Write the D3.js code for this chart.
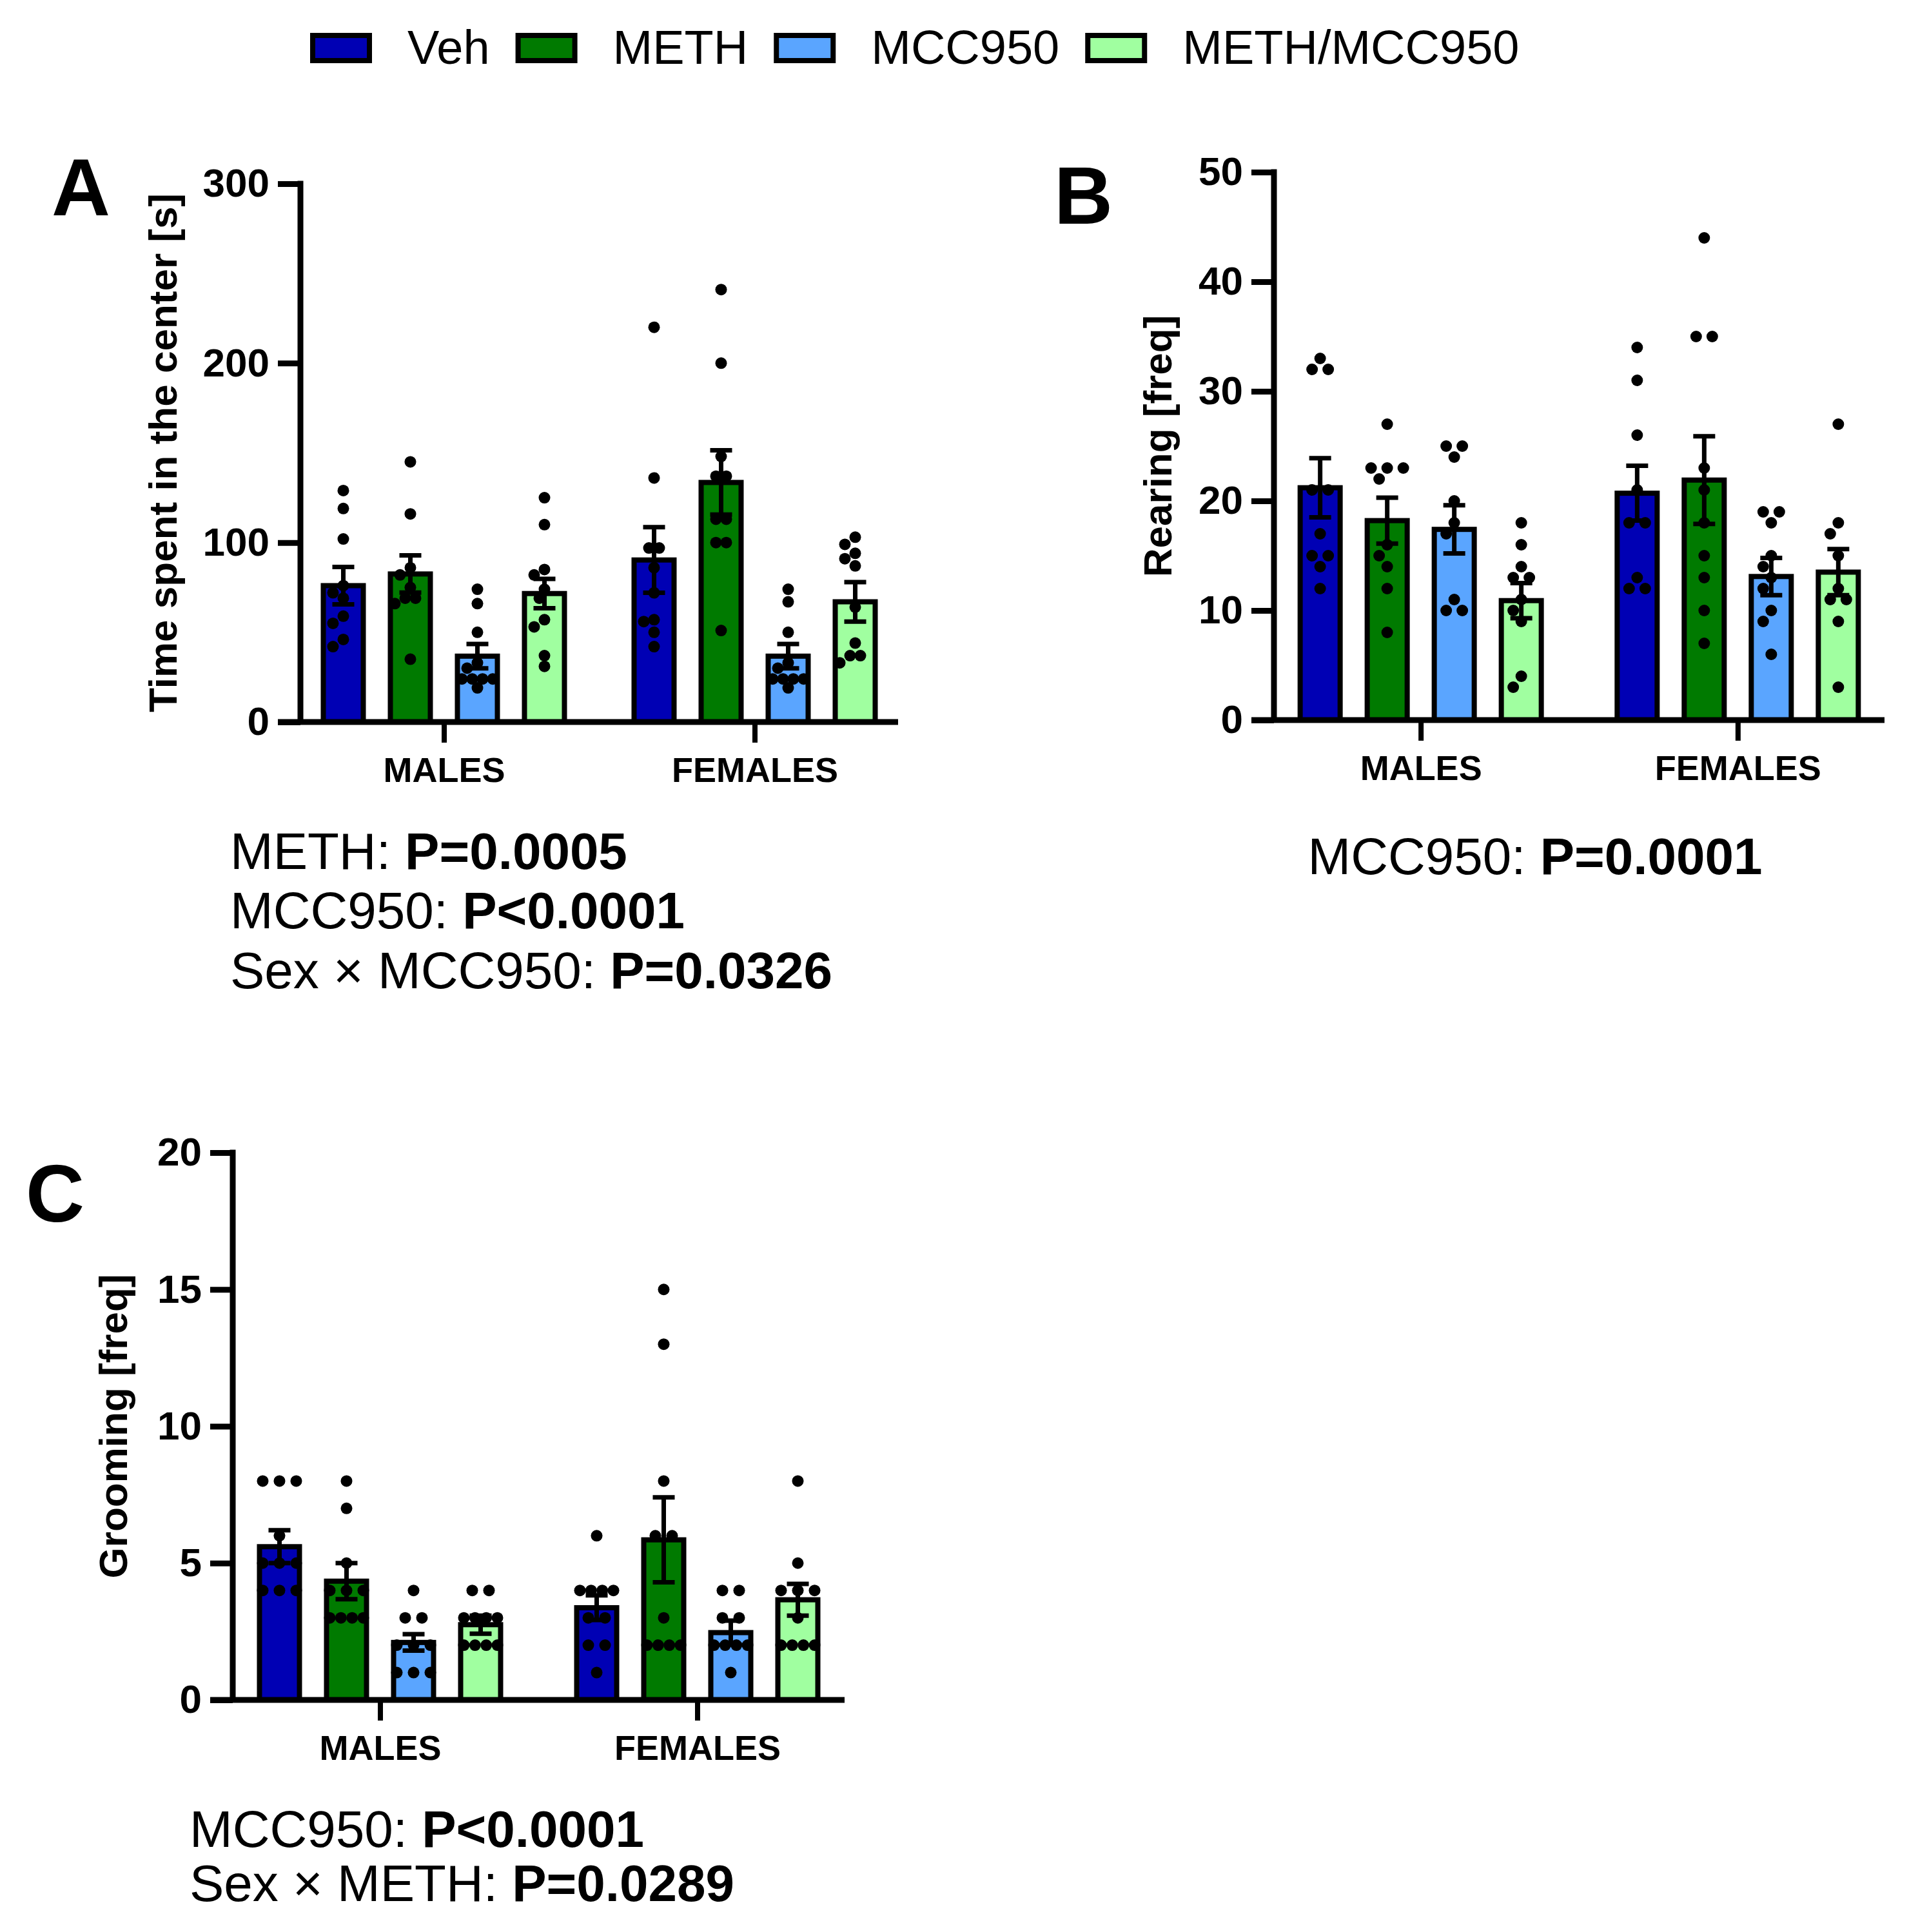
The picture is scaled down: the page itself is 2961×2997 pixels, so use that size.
<!DOCTYPE html>
<html>
<head>
<meta charset="utf-8">
<script src="https://cdn.jsdelivr.net/npm/d3@7"></script>
<style>
  body { margin: 0; background: #fff; }
  svg text { font-family: "Liberation Sans", Arial, sans-serif; }
</style>
</head>
<body>
<svg id="chart"></svg>
<script>
// groups and series
const sexes = ["MALES", "FEMALES"];
const seriesNames = ["Veh", "METH", "MCC950", "METH/MCC950"];
const colors = ["#0000B4", "#007A00", "#5AA5FF", "#A0FFA0"];

// A - time spent in the center [s]
const timeTicks = [0, 100, 200, 300];
const timeMeans = [[76, 82.5, 36.7, 71.6], [90.3, 133.5, 36.7, 67]];
const timeSem = [[10.4, 10.4, 6.8, 8.2], [18.3, 17.9, 6.8, 11]];
const timePoints = [
  [[129, 119, 102, 76, 72, 69, 59, 55, 46, 42],
   [145, 116, 86, 82, 75, 69, 69, 66, 35],
   [74, 66, 50, 33, 30, 24, 24, 24, 24, 19],
   [125, 110, 85, 82, 74, 69, 57, 53, 37, 31]],
  [[220, 136, 97, 97, 86, 72, 57, 56, 50, 42],
   [241, 200, 148, 137, 137, 113, 113, 100, 100, 51],
   [74, 67, 50, 33, 30, 24, 24, 24, 24, 19],
   [103, 99, 94, 91, 87, 64, 44, 37, 37, 33]]
];
const statsA = [["METH: ", "P=0.0005"], ["MCC950: ", "P<0.0001"], ["Sex \u00d7 MCC950: ", "P=0.0326"]];

// B - rearing [freq]
const rearingTicks = [0, 10, 20, 30, 40, 50];
const rearingMeans = [[21.2, 18.2, 17.4, 10.9], [20.7, 21.9, 13.1, 13.5]];
const rearingSem = [[2.7, 2.1, 2.2, 1.6], [2.5, 4.0, 1.7, 2.1]];
const rearingPoints = [
  [[33, 32, 32, 21, 21, 17, 15, 15, 14, 12],
   [27, 23, 23, 23, 22, 16, 15, 14, 12, 8],
   [25, 25, 24, 20, 18, 17, 11, 10, 10],
   [18, 16, 14, 13, 13, 11, 10, 9, 4, 3]],
  [[34, 31, 26, 21, 18, 18, 13, 12, 12],
   [44, 35, 35, 23, 21, 18, 15, 13, 10, 7],
   [19, 19, 18, 15, 14, 13, 12, 10, 9, 6],
   [27, 18, 17, 15, 12, 11, 11, 9, 3]]
];
const statsB = [["MCC950: ", "P=0.0001"]];

// C - grooming [freq]
const groomingTicks = [0, 5, 10, 15, 20];
const groomingMeans = [[5.6, 4.34, 2.1, 2.75], [3.37, 5.85, 2.46, 3.66]];
const groomingSem = [[0.6, 0.66, 0.3, 0.33], [0.45, 1.55, 0.44, 0.58]];
const groomingPoints = [
  [[8, 8, 8, 6, 5, 5, 5, 4, 4, 4],
   [8, 7, 5, 4, 4, 4, 3, 3, 3, 3],
   [4, 3, 3, 2, 2, 2, 1, 1, 1],
   [4, 4, 3, 3, 3, 3, 2, 2, 2, 2]],
  [[6, 4, 4, 4, 4, 3, 3, 2, 2, 1],
   [15, 13, 8, 6, 6, 3, 2, 2, 2, 2],
   [4, 4, 3, 3, 2, 2, 2, 2, 1],
   [8, 5, 4, 4, 4, 3, 2, 2, 2, 2]]
];
const statsC = [["MCC950: ", "P<0.0001"], ["Sex \u00d7 METH: ", "P=0.0289"]];

document.addEventListener("DOMContentLoaded", function () {
    const W = 2961, H = 2997;
    const font = '"Liberation Sans", Arial, sans-serif';
    const svg = d3.select("#chart").attr("width", W).attr("height", H);
    svg.append("rect").attr("width", W).attr("height", H).attr("fill", "#fff");

    // legend
    const legend = svg.append("g");
    let lx = 481;
    seriesNames.forEach((name, i) => {
        legend.append("rect")
            .attr("x", lx + 4).attr("y", 55)
            .attr("width", 88).attr("height", 39)
            .attr("fill", colors[i]).attr("stroke", "#000").attr("stroke-width", 8);
        const t = legend.append("text")
            .attr("x", lx + 96 + 55).attr("y", 99)
            .attr("font-size", 74).text(name);
        lx += 96 + 55 + t.node().getComputedTextLength() + 40;
    });

    function drawPanel(p) {
        const g = svg.append("g");
        const y = d3.scaleLinear().domain([0, p.ticks[p.ticks.length - 1]]).range([p.y0, p.y1]);
        const x = d3.scalePoint().domain(sexes).range([p.x0, p.x1]).padding(p.pad);
        const xs = d3.scaleBand().domain(seriesNames).range([-208, 208]);
        const barW = 62, r = 9, step = p.dotStep, minDist = p.dotStep < 20 ? 16 : 18;

        const rows = [];
        sexes.forEach((sex, gi) => seriesNames.forEach((s, si) => {
            rows.push({ gi, si, cx: x(sex) + xs(s) + xs.bandwidth() / 2,
                mean: p.means[gi][si], sem: p.sems[gi][si], pts: p.points[gi][si] });
        }));

        // bars
        g.selectAll("rect.bar").data(rows).join("rect")
            .attr("class", "bar")
            .attr("x", d => d.cx - barW / 2)
            .attr("y", d => y(d.mean))
            .attr("width", barW)
            .attr("height", d => y(0) - y(d.mean))
            .attr("fill", d => colors[d.si])
            .attr("stroke", "#000").attr("stroke-width", 8);

        // points: equal values sit side by side (kept inside the bar), close values get pushed aside
        const dots = [];
        rows.forEach(d => {
            const placed = [];
            d3.groups(d.pts, v => v).sort((a, b) => b[0] - a[0]).forEach(([v, arr]) => {
                const py = y(v);
                const s = arr.length > 1 ? Math.min(step, p.rowWidth / (arr.length - 1)) : step;
                const base = arr.map((_, j) => (j - (arr.length - 1) / 2) * s);
                for (let n = 0; n < 40; n++) {
                    const shift = (n % 2 ? -1 : 1) * Math.ceil(n / 2) * step / 2;
                    const pos = base.map(b => b + shift);
                    const ok = pos.every(px => placed.every(q => Math.hypot(q.x - px, q.y - py) >= minDist));
                    if (ok) { pos.forEach(px => placed.push({ x: px, y: py })); break; }
                }
            });
            placed.forEach(q => dots.push({ x: d.cx + q.x, y: q.y }));
        });
        g.selectAll("circle").data(dots).join("circle")
            .attr("cx", d => d.x).attr("cy", d => d.y).attr("r", r).attr("fill", "#000");

        // error bars (mean +/- SEM)
        g.selectAll("path.err").data(rows).join("path")
            .attr("class", "err")
            .attr("d", d => {
                const t = y(d.mean + d.sem), b = y(d.mean - d.sem);
                return `M${d.cx},${t}V${b}M${d.cx - 17},${t}H${d.cx + 17}M${d.cx - 17},${b}H${d.cx + 17}`;
            })
            .attr("fill", "none").attr("stroke", "#000").attr("stroke-width", 7);

        // y axis
        const ya = g.append("g").attr("transform", `translate(${p.x0},0)`)
            .call(d3.axisLeft(y).tickValues(p.ticks).tickSize(35).tickSizeOuter(0).tickPadding(13));
        ya.attr("font-family", font).attr("font-size", 62).attr("font-weight", "bold");
        ya.select(".domain").attr("d", `M0,${p.y1 - 4.5}V${p.y0}`).attr("stroke-width", 9);
        ya.selectAll(".tick line").attr("stroke-width", 9);
        ya.selectAll(".tick text").attr("fill", "#000");

        // x axis
        const xa = g.append("g").attr("transform", `translate(0,${p.y0})`)
            .call(d3.axisBottom(x).tickSize(32).tickSizeOuter(0));
        xa.attr("font-family", font).attr("font-size", 54).attr("font-weight", "bold");
        xa.select(".domain").attr("d", `M${p.x0 - 35},0H${p.x1}`).attr("stroke-width", 9);
        xa.selectAll(".tick line").attr("stroke-width", 8);
        xa.selectAll(".tick text").attr("y", 93).attr("dy", null).attr("fill", "#000");

        // axis title
        g.append("text")
            .attr("transform", `translate(${p.titleX},${(p.y0 + p.y1) / 2}) rotate(-90)`)
            .attr("text-anchor", "middle").attr("dy", "0.26em")
            .attr("font-size", 62).attr("font-weight", "bold")
            .text(p.title);

        // panel letter
        g.append("text").attr("x", p.letterX).attr("y", p.letterY)
            .attr("font-size", 126).attr("font-weight", "bold").text(p.letter);

        // statistics
        p.stats.forEach((s, i) => {
            const t = g.append("text").attr("x", p.statsX).attr("y", p.statsY[i])
                .attr("text-anchor", p.statsAnchor).attr("font-size", 80);
            t.append("tspan").text(s[0]);
            t.append("tspan").attr("font-weight", "bold").text(s[1]);
        });
    }

    drawPanel({ letter: "A", letterX: 80, letterY: 334,
        x0: 466, x1: 1393, y0: 1120, y1: 285, pad: 0.4616, dotStep: 16, rowWidth: 48,
        ticks: timeTicks, means: timeMeans, sems: timeSem, points: timePoints,
        title: "Time spent in the center [s]", titleX: 258,
        stats: statsA, statsX: 357, statsY: [1348, 1440, 1533], statsAnchor: "start" });

    drawPanel({ letter: "B", letterX: 1635, letterY: 347,
        x0: 1976, x1: 2923, y0: 1117, y1: 267, pad: 0.463, dotStep: 25, rowWidth: 52,
        ticks: rearingTicks, means: rearingMeans, sems: rearingSem, points: rearingPoints,
        title: "Rearing [freq]", titleX: 1801,
        stats: statsB, statsX: 2381, statsY: [1356], statsAnchor: "middle" });

    drawPanel({ letter: "C", letterX: 40, letterY: 1895,
        x0: 361, x1: 1310, y0: 2637, y1: 1788, pad: 0.4644, dotStep: 26, rowWidth: 52,
        ticks: groomingTicks, means: groomingMeans, sems: groomingSem, points: groomingPoints,
        title: "Grooming [freq]", titleX: 181,
        stats: statsC, statsX: 294, statsY: [2865, 2949], statsAnchor: "start" });
});
</script>
</body>
</html>
